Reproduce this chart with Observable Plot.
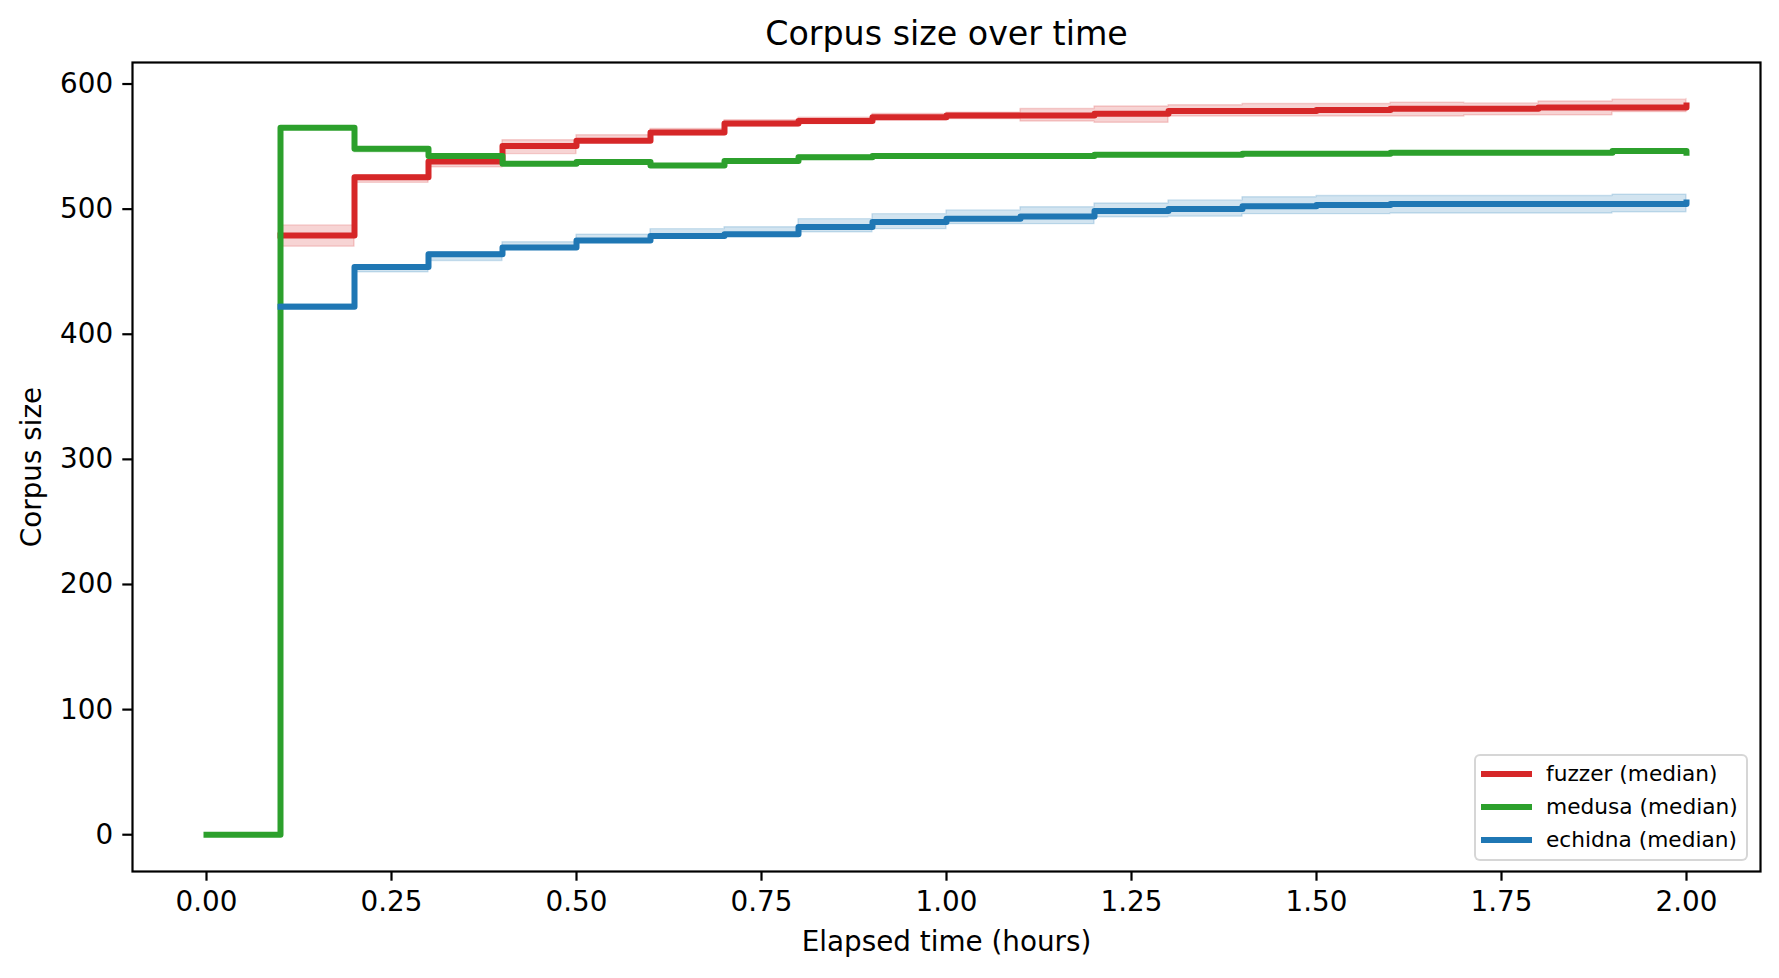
<!DOCTYPE html>
<html>
<head>
<meta charset="utf-8">
<script src="https://cdn.jsdelivr.net/npm/d3@7"></script>
<script src="https://cdn.jsdelivr.net/npm/@observablehq/plot@0.6"></script>
<style>
  html, body { margin: 0; padding: 0; background: #fff; }
  #fig { position: relative; width: 1779px; height: 978px; font-family: "DejaVu Sans", sans-serif; }
  #legend {
    position: absolute; left: 1474px; top: 754px; width: 274px; height: 107px;
    box-sizing: border-box; border: 2px solid rgba(204, 204, 204, 0.8); border-radius: 6px;
    background: rgba(255, 255, 255, 0.8);
  }
  .entry { position: absolute; left: 0; height: 30px; width: 100%; }
  .swatch { position: absolute; left: 5px; top: 12px; width: 51px; height: 6px; }
  .name { position: absolute; left: 70px; top: 0; font-size: 21.7px; line-height: 30px; color: #000; white-space: nowrap; }
</style>
</head>
<body>
<div id="fig"></div>
<script>
// Sample times (hours) shared by every series
const hours = [0, 0.1, 0.2, 0.3, 0.4, 0.5, 0.6, 0.7, 0.8, 0.9, 1.0,
               1.1, 1.2, 1.3, 1.4, 1.5, 1.6, 1.7, 1.8, 1.9, 2.0];

const seriesNames = ["fuzzer", "medusa", "echidna"];
const legendLabels = ["fuzzer (median)", "medusa (median)", "echidna (median)"];

// Median corpus size per sample (null = no sample yet)
const fuzzerMedian  = [null, 479, 525.5, 538, 550.5, 554.7, 561.3, 568.5, 570.5, 573.5, 574.8,
                       574.8, 576.3, 578.5, 578.5, 579.3, 580.3, 580.3, 581.2, 581.2, 582.8];
const medusaMedian  = [0, 565, 548.2, 542.4, 536.2, 537.7, 534.8, 538.5, 541.5, 542.5, 542.5,
                       542.5, 543.5, 543.5, 544.2, 544.2, 545, 545, 545, 546.4, 545];
const echidnaMedian = [null, 422, 453.7, 464, 469.3, 474.9, 478.5, 480, 485.8, 489.7, 492.3,
                       494.1, 498.6, 500.1, 502.4, 503.4, 504.2, 504.2, 504.2, 504.2, 505.3];

// Spread across runs (lower / upper bounds)
const fuzzerLow   = [null, 470, 521, 533.5, 544, 553, 559, 566, 568, 571, 572,
                     570, 569, 574, 574, 574, 574, 575, 575, 577.5, 578];
const fuzzerHigh  = [null, 487, 527, 539, 555, 559, 564, 571, 573, 576, 577,
                     580, 582, 583, 584, 584, 585, 584.5, 586, 587.5, 588];
const medusaLow   = [0, 564, 545.5, 541, 535, 536.5, 533.5, 537, 540.5, 541.5, 541.5,
                     541.5, 542.3, 542.3, 543, 543, 543.8, 543.8, 543.8, 545.2, 544];
const medusaHigh  = [0, 566, 549, 543.5, 537.5, 539, 536, 540, 543, 544, 543.7,
                     543.7, 544.7, 544.7, 545.4, 545.4, 546.2, 546.2, 546.2, 547.6, 546.2];
const echidnaLow  = [null, 421, 449.5, 458.5, 467.5, 473, 476.5, 478, 481.5, 484, 488,
                     488, 493.5, 494, 496, 496, 496.5, 496.5, 496.5, 497.5, 497.5];
const echidnaHigh = [null, 424, 455, 465.5, 473.5, 479.5, 484, 485.5, 492, 496, 499,
                     501.5, 504.5, 507, 509.5, 510.5, 510.5, 510.5, 510.5, 511.5, 511.5];

const xTicks = [0, 0.25, 0.5, 0.75, 1.0, 1.25, 1.5, 1.75, 2.0];
const yTicks = [0, 100, 200, 300, 400, 500, 600];

// Styling
const seriesColors = ["#d62728", "#2ca02c", "#1f77b4"];
const lineWidth = 6;

const medians = [fuzzerMedian, medusaMedian, echidnaMedian];
const lows = [fuzzerLow, medusaLow, echidnaLow];
const highs = [fuzzerHigh, medusaHigh, echidnaHigh];

// Long table: one row per series and sample time
const table = [];
seriesNames.forEach((name, i) => {
  hours.forEach((h, j) => {
    if (medians[i][j] == null) return;
    table.push({series: name, hours: h, median: medians[i][j], lo: lows[i][j], hi: highs[i][j]});
  });
});

const marks = [];
seriesNames.forEach((name, i) => {
  const rows = table.filter(d => d.series === name);
  const color = seriesColors[i];
  marks.push(Plot.areaY(rows, {
    x: "hours", y1: "lo", y2: "hi", curve: "step-after",
    fill: color, fillOpacity: 0.2, stroke: color, strokeOpacity: 0.2, strokeWidth: 1.4
  }));
  marks.push(Plot.line(rows, {
    x: "hours", y: "median", curve: "step-after",
    stroke: color, strokeWidth: lineWidth, strokeLinejoin: "round", strokeLinecap: "square"
  }));
});

const chart = Plot.plot({
  width: 1779,
  height: 978,
  marginLeft: 132,
  marginRight: 19,
  marginTop: 62,
  marginBottom: 107,
  style: {fontFamily: "DejaVu Sans, sans-serif", color: "#000", background: "#fff"},
  x: {domain: [-0.1, 2.1]},
  y: {domain: [-29.4, 617.2]},
  marks: [
    ...marks,
    Plot.frame({stroke: "#000", strokeWidth: 2.2}),
    Plot.axisX(xTicks, {tickFormat: d3.format(".2f"), tickSize: 9.7, tickPadding: 9.7,
                        fontSize: 27.8, strokeWidth: 2.2, label: null}),
    Plot.axisY(yTicks, {tickFormat: d3.format("d"), tickSize: 9.7, tickPadding: 9.7,
                        fontSize: 27.8, strokeWidth: 2.2, label: null}),
    Plot.text(["Elapsed time (hours)"], {text: d => d, frameAnchor: "bottom", dy: 71,
                        textAnchor: "middle", lineAnchor: "middle", fontSize: 27.8}),
    Plot.text(["Corpus size"], {text: d => d, frameAnchor: "left", dx: -100, rotate: -90,
                        textAnchor: "middle", lineAnchor: "middle", fontSize: 27.8}),
    Plot.text(["Corpus size over time"], {text: d => d, frameAnchor: "top", dy: -28,
                        textAnchor: "middle", lineAnchor: "middle", fontSize: 33.3})
  ]
});

const fig = document.getElementById("fig");
fig.appendChild(chart);

// Line legend in the lower-right corner of the axes
const legend = document.createElement("div");
legend.id = "legend";
legendLabels.forEach((label, i) => {
  const entry = document.createElement("div");
  entry.className = "entry";
  entry.style.top = (3 + i * 33) + "px";
  const sw = document.createElement("div");
  sw.className = "swatch";
  sw.style.background = seriesColors[i];
  const nm = document.createElement("div");
  nm.className = "name";
  nm.textContent = label;
  entry.appendChild(sw);
  entry.appendChild(nm);
  legend.appendChild(entry);
});
fig.appendChild(legend);
</script>
</body>
</html>
